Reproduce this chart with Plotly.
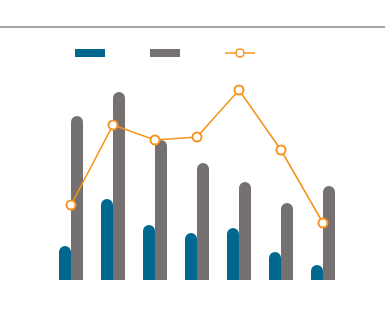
import plotly.graph_objects as go

categories = ["A", "B", "C", "D", "E", "F", "G"]
series_blue = [34, 81, 55, 47, 52, 28, 15]
series_gray = [164, 188, 140, 117, 98, 77, 94]
series_line = [75, 155, 140, 143, 190, 130, 57]

BLUE = "#00678f"
GRAY = "#767171"
ORANGE = "#f7941d"

fig = go.Figure()
fig.add_trace(go.Bar(x=categories, y=series_blue, marker=dict(color=BLUE, cornerradius=6, line=dict(width=0)),
                     showlegend=False, name="blue"))
fig.add_trace(go.Bar(x=categories, y=series_gray, marker=dict(color=GRAY, cornerradius=6, line=dict(width=0)),
                     showlegend=False, name="gray"))
fig.add_trace(go.Scatter(x=categories, y=series_line, mode="lines+markers",
                         line=dict(color=ORANGE, width=1.6),
                         marker=dict(symbol="circle", size=9, color="white", line=dict(color=ORANGE, width=2)),
                         showlegend=False, name="line"))
# legend entries
fig.add_trace(go.Scatter(x=[None], y=[None], mode="lines", line=dict(color=BLUE, width=8), name=" "))
fig.add_trace(go.Scatter(x=[None], y=[None], mode="lines", line=dict(color=GRAY, width=8), name=" "))
fig.add_trace(go.Scatter(x=[None], y=[None], mode="lines+markers", line=dict(color=ORANGE, width=1.6),
                         marker=dict(symbol="circle", size=8, color="white", line=dict(color=ORANGE, width=1.6)),
                         name=" "))

fig.add_shape(type="line", xref="paper", yref="paper", x0=-0.2, x1=1.2, y0=1.265, y1=1.265,
              line=dict(color="#a6a6a6", width=2))

fig.update_layout(
    width=385, height=330,
    margin=dict(l=50, r=41, t=80, b=50),
    paper_bgcolor="white", plot_bgcolor="white",
    barmode="group", bargap=0.4286, bargroupgap=0,
    xaxis=dict(visible=False, range=[-0.5, 6.5]),
    yaxis=dict(visible=False, range=[0, 200]),
    showlegend=True,
    legend=dict(orientation="h", x=0.068, xanchor="left", y=1.135, yanchor="middle",
                entrywidth=30, entrywidthmode="pixels", font=dict(size=10),
                bgcolor="rgba(0,0,0,0)"),
)

fig.write_html("out.html")
